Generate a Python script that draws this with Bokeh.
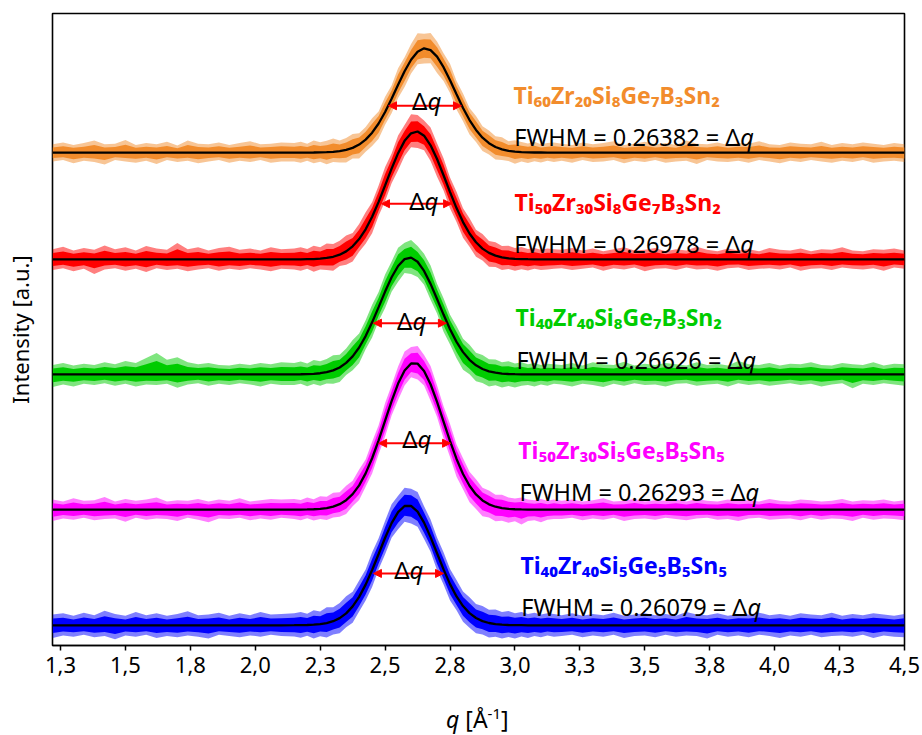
import math
from bokeh.plotting import figure
from bokeh.layouts import column
from bokeh.models import Label, Arrow, NormalHead, FixedTicker, CustomJSTickFormatter, Div
from bokeh.embed import file_html
from bokeh.resources import INLINE

# ---------------- data ----------------
q_left = [1.22, 1.26, 1.30, 1.34, 1.38, 1.42, 1.46, 1.50, 1.54, 1.58, 1.62, 1.66,
          1.70, 1.74, 1.78, 1.82, 1.86, 1.90, 1.94, 1.98, 2.02, 2.06, 2.10]
q_peak = [2.150, 2.175, 2.200, 2.225, 2.250, 2.275, 2.300, 2.325, 2.350, 2.375,
          2.400, 2.425, 2.450, 2.475, 2.500, 2.525, 2.550, 2.575, 2.600, 2.625,
          2.650, 2.675, 2.700, 2.725, 2.750, 2.775, 2.800, 2.825, 2.850, 2.875,
          2.900, 2.925, 2.950, 2.975, 3.000, 3.025, 3.050, 3.075, 3.100, 3.125, 3.150]
q_right = [3.18, 3.22, 3.26, 3.30, 3.34, 3.38, 3.42, 3.46, 3.50, 3.54, 3.58, 3.62,
           3.66, 3.70, 3.74, 3.78, 3.82, 3.86, 3.90, 3.94, 3.98, 4.02, 4.06, 4.10,
           4.14, 4.18, 4.22, 4.26, 4.30, 4.34, 4.38, 4.42, 4.46, 4.50]

tick_values = [1.25, 1.5, 1.75, 2.0, 2.25, 2.5, 2.75, 3.0, 3.25, 3.5, 3.75, 4.0, 4.25, 4.5]
tick_labels = ["1,3", "1,5", "1,8", "2,0", "2,3", "2,5", "2,8", "3,0", "3,3", "3,5",
               "3,8", "4,0", "4,3", "4,5"]

names = ["Ti₆₀Zr₂₀Si₈Ge₇B₃Sn₂", "Ti₅₀Zr₃₀Si₈Ge₇B₃Sn₂", "Ti₄₀Zr₄₀Si₈Ge₇B₃Sn₂",
         "Ti₅₀Zr₃₀Si₅Ge₅B₅Sn₅", "Ti₄₀Zr₄₀Si₅Ge₅B₅Sn₅"]
fwhm = ["0.26382", "0.26978", "0.26626", "0.26293", "0.26079"]
colors = ["#F28C2C", "#FF0000", "#00CC00", "#FF00FF", "#0000FF"]

# baseline (stack offset) of each pattern, intensity units
offsets = [78.0, 61.1, 42.9, 21.5, 3.2]

# fitted curves above baseline on q_peak
fit_orange = [0.00, 0.00, 0.00, 0.01, 0.03, 0.05, 0.11, 0.22, 0.42, 0.74, 1.26, 2.04, 3.14, 4.60,
              6.41, 8.50, 10.72, 12.87, 14.69, 15.96, 16.49, 16.21, 15.17, 13.50, 11.43, 9.21,
              7.06, 5.14, 3.57, 2.35, 1.48, 0.88, 0.50, 0.27, 0.14, 0.07, 0.03, 0.01, 0.01, 0.00, 0.00]
fit_red = [0.00, 0.01, 0.03, 0.05, 0.11, 0.22, 0.41, 0.74, 1.26, 2.06, 3.21, 4.76, 6.74, 9.09,
           11.70, 14.36, 16.80, 18.75, 19.94, 20.23, 19.57, 18.05, 15.87, 13.31, 10.64, 8.11,
           5.90, 4.09, 2.70, 1.70, 1.02, 0.59, 0.32, 0.17, 0.08, 0.04, 0.02, 0.01, 0.00, 0.00, 0.00]
fit_green = [0.01, 0.02, 0.04, 0.09, 0.18, 0.35, 0.63, 1.09, 1.81, 2.84, 4.25, 6.06, 8.23, 10.64,
             13.10, 15.36, 17.15, 18.24, 18.47, 17.82, 16.37, 14.32, 11.93, 9.46, 7.14, 5.14,
             3.52, 2.30, 1.43, 0.85, 0.48, 0.26, 0.13, 0.06, 0.03, 0.01, 0.01, 0.00, 0.00, 0.00, 0.00]
fit_magenta = [0.00, 0.01, 0.03, 0.06, 0.12, 0.25, 0.47, 0.86, 1.49, 2.45, 3.84, 5.73, 8.13, 10.96,
               14.07, 17.18, 19.94, 22.02, 23.13, 23.10, 21.95, 19.84, 17.05, 13.94, 10.84, 8.02,
               5.64, 3.78, 2.40, 1.45, 0.84, 0.46, 0.24, 0.12, 0.06, 0.03, 0.01, 0.00, 0.00, 0.00, 0.00]
fit_blue = [0.01, 0.02, 0.04, 0.09, 0.18, 0.35, 0.64, 1.13, 1.88, 2.99, 4.49, 6.43, 8.74, 11.28,
            13.85, 16.16, 17.91, 18.87, 18.89, 17.97, 16.24, 13.95, 11.39, 8.84, 6.51, 4.56,
            3.04, 1.92, 1.15, 0.66, 0.36, 0.18, 0.09, 0.04, 0.02, 0.01, 0.00, 0.00, 0.00, 0.00, 0.00]

# spread of the measured (noisy) data above / below the fit, on q_left + q_peak + q_right
hi_orange = [1.3, 1.6, 1.2, 1.5, 1.9, 1.3, 1.4, 2.0, 1.2, 1.5, 1.3, 1.7, 1.1, 1.9, 1.4, 1.3, 1.6, 1.2, 1.5, 1.8, 1.3, 1.4, 1.6,
             1.5, 1.7, 1.4, 1.9, 1.6, 1.8, 2.1, 1.7, 1.9, 2.2, 1.8, 2.0, 2.3, 1.9, 2.4, 2.1, 2.6, 2.2, 2.5, 2.9,
             2.3, 2.7, 2.4, 2.2, 2.6, 2.1, 2.3, 1.9, 2.2, 1.8, 2.0, 1.7, 1.9, 1.5, 1.8, 1.6, 1.4, 1.7, 1.3, 1.5, 1.6,
             1.4, 1.2, 1.6, 1.3, 1.5, 1.8, 1.2, 1.4, 1.7, 1.3, 1.5, 1.2, 1.9, 1.4, 1.3, 1.6, 1.2, 1.5, 1.4, 1.8,
             1.3, 1.2, 1.6, 1.4, 1.3, 1.7, 1.2, 1.5, 1.3, 1.6, 1.4, 1.2, 1.5, 1.3]
lo_orange = [1.4, 1.2, 1.7, 1.3, 1.5, 1.9, 1.2, 1.4, 1.6, 1.3, 1.8, 1.2, 1.5, 1.3, 1.7, 1.4, 1.2, 1.6, 1.3, 1.5, 1.2, 1.6, 1.4,
             1.4, 1.6, 1.3, 1.7, 1.5, 1.9, 1.6, 1.8, 2.0, 1.7, 2.2, 1.9, 2.1, 2.4, 2.0, 2.3, 2.1, 2.5, 2.2, 2.0,
             2.4, 2.1, 2.6, 2.2, 2.0, 2.4, 2.1, 2.3, 1.9, 2.1, 1.8, 2.0, 1.7, 1.6, 1.9, 1.5, 1.7, 1.4, 1.6, 1.3, 1.5,
             1.3, 1.6, 1.2, 1.5, 1.4, 1.2, 1.7, 1.3, 1.5, 1.2, 1.6, 1.4, 1.3, 1.8, 1.2, 1.4, 1.5, 1.3, 1.6, 1.2,
             1.4, 1.7, 1.3, 1.5, 1.2, 1.4, 1.6, 1.3, 1.5, 1.2, 1.6, 1.4, 1.3, 1.5]
hi_red = [1.6, 2.0, 1.4, 1.8, 1.5, 2.2, 1.6, 1.9, 1.4, 2.1, 1.7, 1.5, 2.6, 1.6, 1.9, 1.4, 1.8, 2.0, 1.5, 1.7, 1.4, 1.9, 1.6,
          1.7, 1.9, 1.6, 2.1, 1.8, 2.3, 2.0, 2.2, 2.5, 2.1, 2.4, 2.7, 2.3, 2.6, 2.9, 2.4, 2.8, 2.5, 3.0, 2.6,
          2.4, 2.8, 2.5, 2.7, 2.3, 2.6, 2.2, 2.4, 2.0, 2.3, 1.9, 2.1, 1.8, 2.0, 1.7, 1.9, 1.6, 1.8, 1.5, 1.7, 1.6,
          1.5, 1.8, 1.4, 1.7, 1.3, 1.6, 1.9, 1.4, 1.5, 1.8, 1.3, 1.6, 1.4, 2.0, 1.5, 1.3, 1.7, 1.4, 1.6, 1.3,
          1.8, 1.5, 1.4, 1.7, 1.3, 1.6, 1.5, 1.9, 1.4, 1.3, 1.6, 1.5, 1.7, 1.4]
lo_red = [1.7, 1.4, 1.9, 1.5, 2.3, 1.6, 1.4, 1.8, 1.5, 2.0, 1.4, 1.7, 1.5, 1.9, 1.6, 1.4, 1.8, 1.5, 1.7, 1.4, 1.6, 1.9, 1.5,
          1.6, 1.8, 1.5, 2.0, 1.7, 1.9, 2.2, 1.8, 2.1, 2.4, 2.0, 2.3, 2.6, 2.2, 2.5, 2.3, 2.7, 2.4, 2.2, 2.6,
          2.3, 2.5, 2.8, 2.4, 2.6, 2.2, 2.5, 2.1, 2.3, 1.9, 2.2, 1.8, 2.0, 1.7, 1.9, 1.6, 1.8, 1.5, 1.7, 1.6, 1.5,
          1.4, 1.7, 1.5, 1.3, 1.8, 1.4, 1.6, 1.3, 1.9, 1.5, 1.4, 1.7, 1.3, 1.6, 1.5, 1.8, 1.4, 1.3, 1.7, 1.5,
          1.4, 1.6, 1.3, 1.8, 1.5, 1.4, 1.7, 1.3, 1.5, 1.6, 1.4, 1.8, 1.3, 1.5]
hi_green = [1.5, 1.8, 1.4, 1.7, 1.5, 1.9, 1.6, 2.1, 1.8, 2.6, 3.4, 2.3, 2.7, 1.9, 1.6, 1.8, 1.5, 1.4, 1.7, 1.5, 1.8, 1.6, 1.9,
            1.8, 2.0, 1.7, 2.2, 1.9, 2.1, 2.4, 2.0, 2.3, 2.6, 2.2, 2.5, 2.8, 2.4, 2.7, 2.5, 2.9, 2.6, 2.8, 2.5,
            2.7, 2.9, 2.4, 2.6, 2.3, 2.5, 2.1, 2.4, 2.0, 2.2, 1.9, 2.1, 1.8, 2.0, 1.7, 1.9, 1.6, 1.8, 1.5, 1.7, 1.6,
            1.5, 1.8, 1.4, 1.9, 1.6, 1.5, 2.0, 1.4, 1.7, 1.5, 1.8, 1.6, 1.4, 1.9, 1.5, 1.7, 1.4, 2.1, 1.6, 1.5,
            1.8, 1.4, 1.7, 1.6, 1.9, 1.5, 1.4, 1.8, 1.6, 1.5, 1.9, 1.4, 1.7, 1.6]
lo_green = [2.0, 1.6, 1.9, 1.5, 1.7, 1.4, 1.8, 1.5, 1.9, 1.6, 1.7, 1.5, 2.1, 1.6, 1.4, 1.8, 1.5, 1.7, 1.4, 1.6, 1.9, 1.5, 1.7,
            1.7, 1.5, 1.9, 1.6, 2.0, 1.8, 2.1, 2.3, 1.9, 2.2, 2.5, 2.1, 2.4, 2.2, 2.6, 2.3, 2.5, 2.2, 2.6, 2.4,
            2.2, 2.5, 2.3, 2.7, 2.4, 2.6, 2.8, 2.3, 2.5, 2.2, 2.4, 2.0, 2.2, 1.9, 2.1, 1.8, 1.7, 1.9, 1.6, 1.8, 1.5,
            1.6, 1.9, 1.5, 1.7, 2.0, 1.5, 1.8, 1.4, 1.7, 1.6, 1.9, 1.5, 1.4, 1.8, 1.6, 1.5, 1.9, 1.4, 1.7, 1.5,
            1.8, 1.6, 1.4, 1.7, 1.5, 1.9, 1.6, 1.4, 2.2, 1.5, 1.7, 1.4, 1.6, 1.8]
hi_magenta = [1.6, 1.3, 1.8, 1.4, 1.5, 2.0, 1.3, 1.7, 1.4, 1.6, 1.9, 1.3, 1.5, 1.4, 1.7, 1.3, 1.6, 1.4, 1.8, 1.3, 1.5, 1.7, 1.6,
              1.7, 1.5, 1.9, 1.6, 2.0, 1.8, 2.2, 1.9, 2.3, 2.1, 2.5, 2.2, 2.6, 2.4, 2.8, 2.5, 2.7, 3.0, 2.6, 2.8,
              2.5, 2.9, 2.6, 2.4, 2.7, 2.3, 2.5, 2.2, 2.4, 2.0, 2.2, 1.9, 2.1, 1.8, 1.7, 1.9, 1.6, 1.5, 1.7, 1.4, 1.6,
              1.4, 1.6, 1.3, 1.5, 1.8, 1.3, 1.4, 1.7, 1.3, 1.5, 1.4, 1.6, 1.3, 1.7, 1.4, 1.3, 1.6, 1.4, 1.5, 1.3,
              1.7, 1.4, 1.3, 1.6, 1.5, 1.3, 1.4, 1.7, 1.3, 1.5, 1.4, 1.6, 1.3, 1.5]
lo_magenta = [1.8, 1.4, 1.6, 1.3, 1.7, 1.5, 1.4, 1.9, 1.3, 1.6, 1.4, 1.5, 1.8, 1.3, 1.6, 2.0, 1.4, 1.5, 1.3, 1.7, 1.4, 1.6, 1.3,
              1.5, 1.7, 1.4, 1.8, 1.6, 1.9, 1.7, 2.0, 2.2, 1.9, 2.3, 2.1, 2.4, 2.2, 2.5, 2.3, 2.6, 2.4, 2.2, 2.5,
              2.3, 2.6, 2.4, 2.7, 2.5, 2.8, 2.4, 2.6, 2.3, 2.5, 2.1, 2.3, 2.0, 2.2, 1.9, 2.4, 1.8, 1.7, 2.0, 1.6, 1.5,
              1.5, 1.3, 1.7, 1.4, 1.6, 1.3, 1.8, 1.5, 1.4, 1.6, 1.3, 1.5, 1.7, 1.4, 1.3, 1.6, 1.5, 1.8, 1.4, 1.3,
              1.6, 1.5, 1.4, 1.7, 1.3, 1.6, 1.4, 1.5, 1.8, 1.3, 1.6, 1.4, 1.5, 1.7]
hi_blue = [1.7, 1.9, 1.5, 2.0, 1.6, 2.3, 1.8, 1.5, 2.1, 1.6, 1.9, 1.5, 1.8, 2.2, 1.6, 1.7, 2.0, 1.5, 1.9, 1.6, 2.1, 1.7, 1.8,
           1.9, 2.1, 1.8, 2.3, 2.0, 2.5, 2.2, 2.4, 2.7, 2.3, 2.6, 2.4, 2.8, 2.5, 2.7, 3.0, 2.6, 2.9, 2.7, 3.1,
           2.6, 2.8, 2.5, 2.7, 2.4, 2.6, 2.3, 2.5, 2.2, 2.4, 2.1, 2.3, 2.0, 2.2, 1.9, 2.1, 1.8, 2.0, 1.7, 1.9, 1.8,
           1.6, 1.9, 1.5, 1.8, 1.6, 2.0, 1.5, 1.7, 1.9, 1.6, 1.8, 1.5, 2.1, 1.7, 1.6, 1.9, 1.5, 1.8, 1.7, 2.0,
           1.6, 1.8, 1.5, 1.9, 1.7, 1.6, 2.0, 1.5, 1.8, 1.6, 1.9, 1.7, 1.5, 1.8]
lo_blue = [2.0, 1.6, 1.8, 1.5, 1.9, 1.7, 2.2, 1.6, 1.8, 1.5, 2.0, 1.7, 1.9, 1.6, 1.8, 2.1, 1.5, 1.7, 1.9, 1.6, 1.8, 1.5, 1.7,
           1.8, 2.0, 1.7, 2.2, 1.9, 2.3, 2.1, 2.4, 2.2, 2.6, 2.3, 2.5, 2.7, 2.4, 2.6, 2.3, 2.7, 2.5, 2.8, 2.4,
           2.6, 2.3, 2.7, 2.4, 2.6, 2.2, 2.5, 2.3, 2.4, 2.1, 2.3, 2.0, 2.2, 1.9, 2.1, 1.8, 2.0, 1.7, 1.9, 1.6, 1.8,
           1.7, 1.5, 1.9, 1.6, 1.8, 1.5, 2.0, 1.7, 1.6, 1.9, 1.5, 1.8, 1.6, 1.7, 2.1, 1.5, 1.8, 1.6, 1.9, 1.5,
           1.7, 2.0, 1.6, 1.8, 1.5, 1.9, 1.7, 1.6, 1.8, 1.5, 2.0, 1.6, 1.8, 1.9]

fits = [fit_orange, fit_red, fit_green, fit_magenta, fit_blue]
his = [hi_orange, hi_red, hi_green, hi_magenta, hi_blue]
los = [lo_orange, lo_red, lo_green, lo_magenta, lo_blue]

# FWHM arrows (q at both ends, height in intensity units)
arrow_q0 = [2.513, 2.486, 2.455, 2.475, 2.455]
arrow_q1 = [2.794, 2.756, 2.736, 2.752, 2.725]
arrow_y = [85.4, 69.9, 51.0, 32.0, 11.4]

# ---------------- placement (styles / positions) ----------------
dq_x = [2.663, 2.652, 2.605, 2.625, 2.594]
dq_y = [86.2, 70.4, 51.4, 32.8, 12.0]
name_x = [2.994, 2.998, 3.002, 3.013, 3.021]
name_y = [87.1, 70.2, 52.0, 30.9, 12.7]
fw_x = [3.868, 3.868, 3.876, 3.888, 3.895]
fw_y = [80.5, 63.5, 45.2, 24.3, 6.1]

FONT = "Noto Sans"
CORE = 0.62         # share of the spread drawn as the dense core of the noise

p = figure(width=922, height=700, x_range=(1.2192, 4.5), y_range=(0, 100),
           output_backend="svg", toolbar_location=None,
           min_border_left=52, min_border_right=18, min_border_top=13, min_border_bottom=55)
p.background_fill_color = "white"
p.border_fill_color = "white"
p.outline_line_color = "black"
p.outline_line_width = 1.6
p.xgrid.visible = False
p.ygrid.visible = False

ay = p.yaxis[0]
ay.ticker = FixedTicker(ticks=[], minor_ticks=[])
ay.axis_line_color = None
ay.major_tick_line_color = None
ay.minor_tick_line_color = None
ay.major_label_text_font_size = "0px"
ay.axis_label = "Intensity [a.u.]"
ay.axis_label_text_font = FONT
ay.axis_label_text_font_size = "22px"
ay.axis_label_text_font_style = "normal"
ay.axis_label_text_color = "black"
ay.axis_label_standoff = 18

ax = p.xaxis[0]
ax.ticker = FixedTicker(ticks=tick_values, minor_ticks=[])
ax.formatter = CustomJSTickFormatter(args=dict(vals=tick_values, labs=tick_labels), code="""
    const i = vals.findIndex(v => Math.abs(v - tick) < 1e-6);
    return i >= 0 ? labs[i] : '';
""")
ax.major_tick_in = 0
ax.major_tick_out = 5
ax.major_tick_line_width = 1.5
ax.minor_tick_line_color = None
ax.axis_line_width = 1.6
ax.major_label_text_font = FONT
ax.major_label_text_font_size = "22px"
ax.major_label_text_color = "black"
ax.major_label_standoff = 6

q_all = q_left + q_peak + q_right
nl, nr = len(q_left), len(q_right)

for k in range(5):
    fit_all = [0.0] * nl + fits[k] + [0.0] * nr
    y_fit = [offsets[k] + f for f in fit_all]
    p.varea(x=q_all, y1=[y - l for y, l in zip(y_fit, los[k])],
            y2=[y + h for y, h in zip(y_fit, his[k])], fill_color=colors[k], fill_alpha=0.5)
    p.varea(x=q_all, y1=[y - CORE * l for y, l in zip(y_fit, los[k])],
            y2=[y + CORE * h for y, h in zip(y_fit, his[k])], fill_color=colors[k], fill_alpha=1.0)

for k in range(5):
    fit_all = [0.0] * nl + fits[k] + [0.0] * nr
    y_fit = [offsets[k] + f for f in fit_all]
    p.line(x=q_all, y=y_fit, line_color="black", line_width=2.3)

for k in range(5):
    p.add_layout(Arrow(x_start=arrow_q0[k], y_start=arrow_y[k], x_end=arrow_q1[k], y_end=arrow_y[k],
                       line_color="#FF0000", line_width=2,
                       start=NormalHead(size=8, fill_color="#FF0000", line_color="#FF0000"),
                       end=NormalHead(size=8, fill_color="#FF0000", line_color="#FF0000")))
    p.add_layout(Label(x=dq_x[k], y=dq_y[k], text="Δ", text_font=FONT, text_font_size="24px",
                       text_align="right", text_baseline="alphabetic", text_color="black"))
    p.add_layout(Label(x=dq_x[k], y=dq_y[k], text="q", text_font=FONT, text_font_size="24px",
                       text_font_style="italic", text_align="left", text_baseline="alphabetic",
                       text_color="black"))
    p.add_layout(Label(x=name_x[k], y=name_y[k], text=names[k], text_font=FONT, text_font_size="23px",
                       text_font_style="bold", text_align="left", text_baseline="alphabetic",
                       text_color=colors[k]))
    p.add_layout(Label(x=fw_x[k], y=fw_y[k], text="FWHM = " + fwhm[k] + " = Δ", text_font=FONT,
                       text_font_size="23.5px", text_align="right", text_baseline="alphabetic",
                       text_color="black"))
    p.add_layout(Label(x=fw_x[k], y=fw_y[k], text="q", text_font=FONT, text_font_size="23.5px",
                       text_font_style="italic", text_align="left", text_baseline="alphabetic",
                       text_color="black"))

# x-axis title with italic q
xtitle = Div(text=("<div style=\"padding-left:446px;padding-top:8px;font-family:'Noto Sans';"
                   "font-size:23px;line-height:23px;color:#000;white-space:nowrap;\">"
                   "<i>q</i> [Å<sup style=\"font-size:15px;line-height:0;\">-1</sup>]</div>"),
             width=922, height=35, margin=0)

layout = column(p, xtitle, spacing=0)
open("out.html", "w").write(file_html(layout, INLINE))
